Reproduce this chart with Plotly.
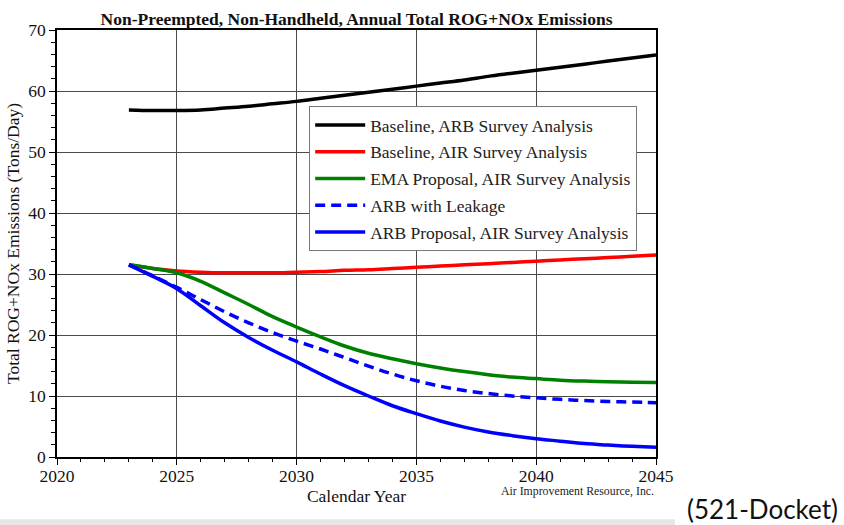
import plotly.graph_objects as go

# Calendar years covered by the emission projections
years = list(range(2023, 2046))

baseline_arb = [56.9, 56.8, 56.8, 56.9, 57.2, 57.5, 57.9, 58.3, 58.8, 59.3, 59.8, 60.3,
                60.8, 61.3, 61.8, 62.4, 62.9, 63.4, 63.9, 64.4, 64.9, 65.4, 65.9]
baseline_air = [31.5, 30.9, 30.5, 30.3, 30.2, 30.2, 30.2, 30.3, 30.4, 30.6, 30.7, 30.9,
                31.1, 31.3, 31.5, 31.7, 31.9, 32.1, 32.3, 32.5, 32.7, 32.9, 33.1]
ema_proposal = [31.5, 30.9, 30.2, 28.8, 26.9, 25.0, 23.0, 21.3, 19.7, 18.2, 17.0, 16.1,
                15.3, 14.6, 14.0, 13.5, 13.1, 12.85, 12.6, 12.45, 12.35, 12.25, 12.2]
arb_leakage = [31.5, 29.7, 27.8, 25.8, 23.8, 22.0, 20.4, 19.0, 17.7, 16.3, 14.9, 13.6,
               12.5, 11.6, 10.9, 10.4, 10.0, 9.7, 9.45, 9.25, 9.1, 9.0, 8.9]
arb_proposal = [31.5, 29.6, 27.6, 24.8, 22.0, 19.6, 17.5, 15.6, 13.6, 11.7, 10.0, 8.4,
                7.1, 5.9, 4.9, 4.1, 3.5, 3.0, 2.6, 2.2, 1.95, 1.75, 1.6]

series = [
    ("Baseline, ARB Survey Analysis", baseline_arb, "#000000", "solid"),
    ("Baseline, AIR Survey Analysis", baseline_air, "#ff0000", "solid"),
    ("EMA Proposal, AIR Survey Analysis", ema_proposal, "#008000", "solid"),
    ("ARB with Leakage", arb_leakage, "#0000ff", "10px,6px"),
    ("ARB Proposal, AIR Survey Analysis", arb_proposal, "#0000ff", "solid"),
]

SERIF = "Liberation Serif, Times New Roman, serif"
TXT = "#111111"

fig = go.Figure()
for i, (name, vals, color, dash) in enumerate(series):
    fig.add_trace(go.Scatter(
        x=years, y=vals, name=name, mode="lines",
        line=dict(color=color, width=3.5, dash=dash, shape="spline"),
        legendgroup=f"g{i}",
    ))

axis_common = dict(
    showline=True, linecolor="#000000", linewidth=1.5, mirror=True,
    showgrid=True, gridcolor="#4a4a4a", gridwidth=1,
    ticks="outside", ticklen=6, tickwidth=1, tickcolor="#000000",
    tickfont=dict(family=SERIF, size=17.5, color=TXT),
    zeroline=False,
)

fig.update_xaxes(
    range=[2020, 2045], dtick=5, tick0=2020, ticklabelstandoff=-4,
    minor=dict(dtick=1, ticks="outside", ticklen=3, tickcolor="#000000", showgrid=False),
    title=dict(text="Calendar Year", font=dict(family=SERIF, size=17.5, color=TXT), standoff=1),
    **axis_common,
)
fig.update_yaxes(
    range=[0, 70], dtick=10, tick0=0,
    minor=dict(dtick=2, ticks="outside", ticklen=4, tickcolor="#000000", showgrid=False),
    title=dict(text="Total ROG+NOx Emissions (Tons/Day)", font=dict(family=SERIF, size=17.5, color=TXT), standoff=4),
    **axis_common,
)

fig.update_layout(
    width=844, height=525,
    margin=dict(l=52, r=188, t=30, b=68),
    paper_bgcolor="#ffffff", plot_bgcolor="#ffffff",
    title=dict(
        text="<b>Non-Preempted, Non-Handheld, Annual Total ROG+NOx Emissions</b>",
        font=dict(family=SERIF, size=17.5, color=TXT),
        x=0.5, xref="paper", xanchor="center", y=0.965, yanchor="middle",
    ),
    showlegend=True,
    legend=dict(
        x=0.421, y=0.822, xanchor="left", yanchor="top",
        bgcolor="#ffffff", bordercolor="#777777", borderwidth=1,
        font=dict(family=SERIF, size=17.5, color="#222222"),
        tracegroupgap=1, itemwidth=50,
    ),
    annotations=[
        dict(text="Air Improvement Resource, Inc.", xref="paper", yref="paper",
             x=1.0, y=-0.08, xanchor="right", yanchor="middle", showarrow=False,
             font=dict(family=SERIF, size=11.8, color="#222222")),
        dict(text="(521-Docket)", xref="paper", yref="paper",
             x=1.3075, y=-0.122, xanchor="right", yanchor="middle", showarrow=False,
             font=dict(family="Lato, sans-serif", size=26, color=TXT)),
    ],
    shapes=[
        dict(type="rect", xref="paper", yref="paper",
             x0=-0.1, x1=1.0315, y0=-0.146, y1=-0.2,
             fillcolor="#e6e6e6", line=dict(width=0), layer="below"),
    ],
)

fig.write_html("out.html")
